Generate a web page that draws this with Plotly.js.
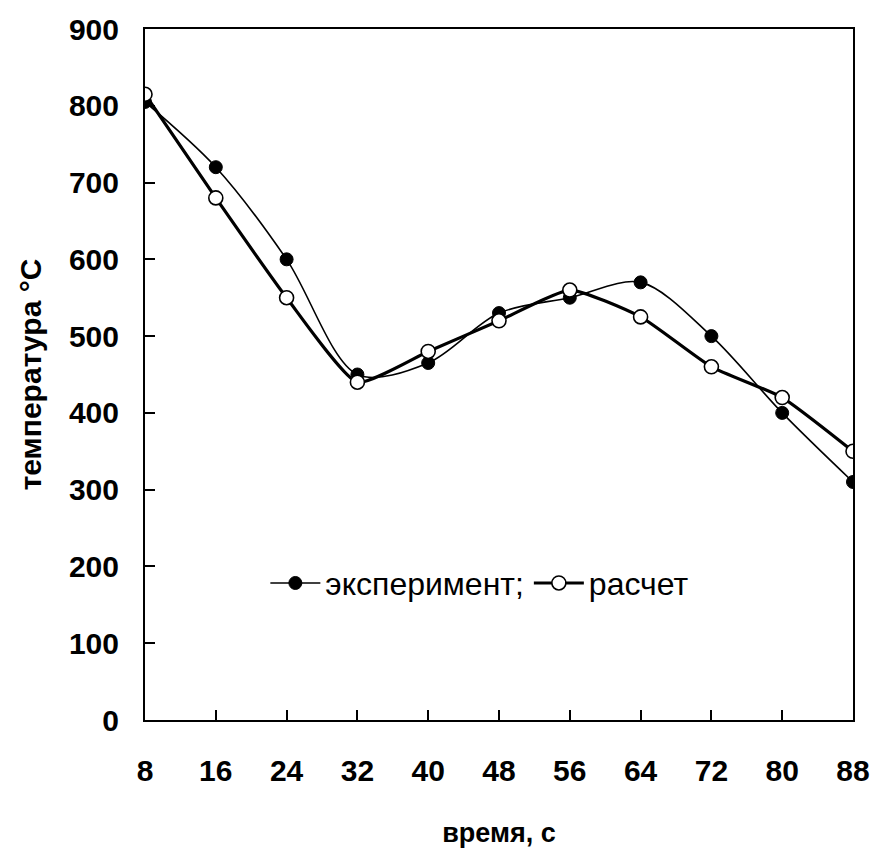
<!DOCTYPE html>
<html>
<head>
<meta charset="utf-8">
<script src="https://cdn.plot.ly/plotly-3.0.1.min.js"></script>
<style>
  html, body { margin: 0; padding: 0; background: #fff; }
  #chart { width: 874px; height: 848px; }
</style>
</head>
<body>
<div id="chart"></div>
<script>
// Time points, s
const timeS = [8, 16, 24, 32, 40, 48, 56, 64, 72, 80, 88];
// Measured temperature, °C
const experiment = [805, 720, 600, 450, 465, 530, 550, 570, 500, 400, 310];
// Calculated temperature, °C
const calculated = [815, 680, 550, 440, 480, 520, 560, 525, 460, 420, 350];
const seriesNames = ['эксперимент;', 'расчет'];
const xTicks = [8, 16, 24, 32, 40, 48, 56, 64, 72, 80, 88];
const yTicks = [0, 100, 200, 300, 400, 500, 600, 700, 800, 900];

const FONT = 'Liberation Sans, Arial, sans-serif';

const traces = [
  {
    x: timeS, y: experiment, name: seriesNames[0],
    type: 'scatter', mode: 'lines+markers',
    line: { color: '#000', width: 1.6, shape: 'spline', smoothing: 0.9 },
    marker: { symbol: 'circle', size: 13, color: '#000', line: { color: '#000', width: 1 } }
  },
  {
    x: timeS, y: calculated, name: seriesNames[1],
    type: 'scatter', mode: 'lines+markers',
    line: { color: '#000', width: 3.2, shape: 'spline', smoothing: 0.5 },
    marker: { symbol: 'circle', size: 14, color: '#fff', line: { color: '#000', width: 1.6 } }
  }
];

const layout = {
  width: 874, height: 848,
  margin: { l: 145, r: 21, t: 29, b: 128 },
  paper_bgcolor: '#fff', plot_bgcolor: '#fff',
  font: { family: FONT, color: '#000' },
  showlegend: true,
  legend: {
    orientation: 'h', x: 0.17, y: 0.198, xanchor: 'left', yanchor: 'middle',
    bgcolor: 'rgba(0,0,0,0)', font: { family: FONT, size: 32, color: '#000' },
    itemwidth: 50, tracegroupgap: 0
  },
  xaxis: {
    range: [8, 88], tickvals: xTicks, ticktext: xTicks.map(String),
    ticks: 'inside', ticklen: 10, tickwidth: 2, tickcolor: '#000',
    showline: true, linecolor: '#000', linewidth: 2, mirror: true,
    showgrid: false, zeroline: false,
    ticklabelstandoff: 23,
    tickfont: { family: FONT, size: 30, weight: 'bold', color: '#000' },
    title: { text: 'время, с', font: { family: FONT, size: 27, weight: 'bold', color: '#000' }, standoff: 44 }
  },
  yaxis: {
    range: [0, 900], tickvals: yTicks, ticktext: yTicks.map(String),
    ticks: 'inside', ticklen: 10, tickwidth: 2, tickcolor: '#000',
    showline: true, linecolor: '#000', linewidth: 2, mirror: true,
    showgrid: false, zeroline: false,
    ticklabelstandoff: 18,
    tickfont: { family: FONT, size: 30, weight: 'bold', color: '#000' },
    title: { text: 'температура °C', font: { family: FONT, size: 30, weight: 'bold', color: '#000' }, standoff: 18 }
  }
};

Plotly.newPlot('chart', traces, layout, { displayModeBar: false, staticPlot: true });
</script>
</body>
</html>
